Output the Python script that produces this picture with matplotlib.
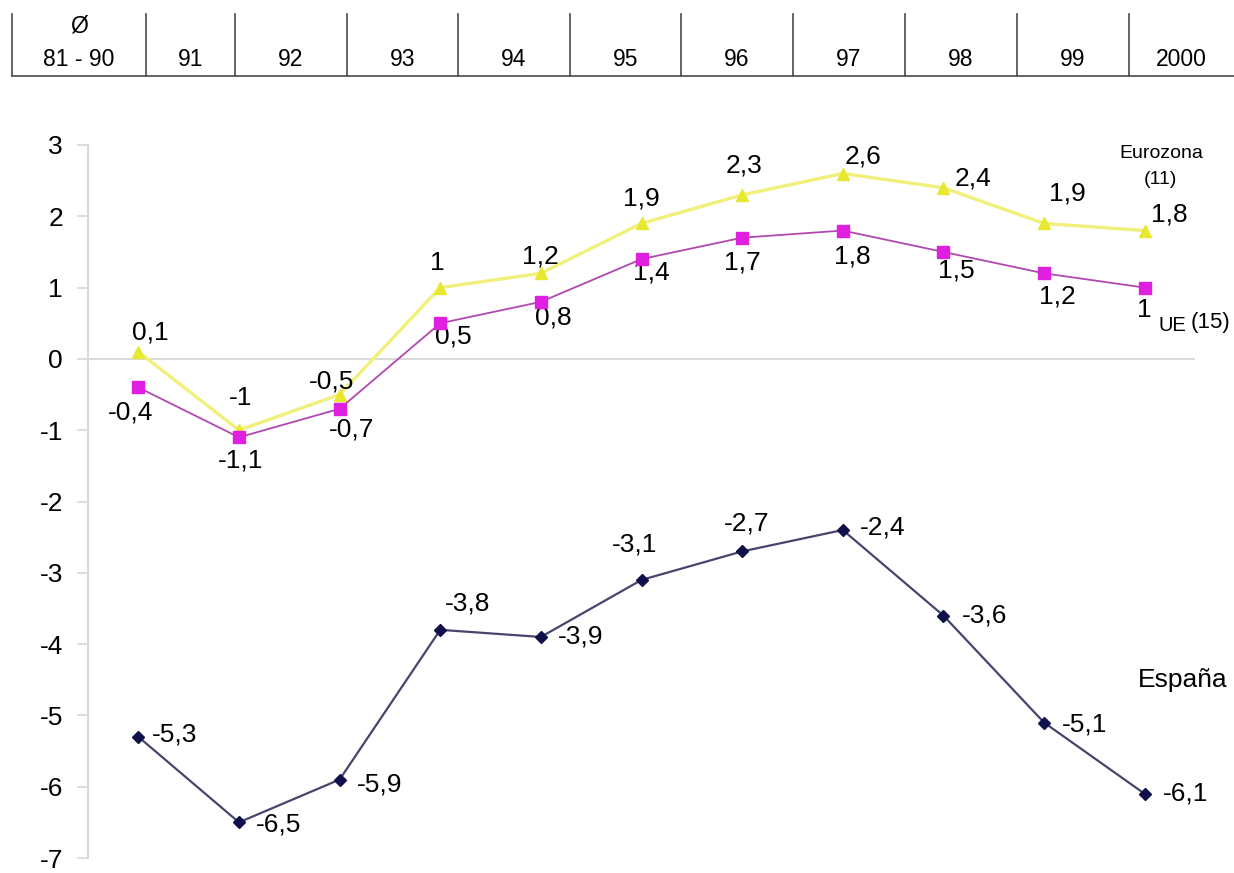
import matplotlib.pyplot as plt
from matplotlib.lines import Line2D

plt.rcParams['font.family'] = ['Liberation Sans', 'DejaVu Sans']

years = ["81 - 90", "91", "92", "93", "94", "95", "96", "97", "98", "99", "2000"]
eurozona = [0.1, -1, -0.5, 1, 1.2, 1.9, 2.3, 2.6, 2.4, 1.9, 1.8]
ue15 = [-0.4, -1.1, -0.7, 0.5, 0.8, 1.4, 1.7, 1.8, 1.5, 1.2, 1]
espana = [-5.3, -6.5, -5.9, -3.8, -3.9, -3.1, -2.7, -2.4, -3.6, -5.1, -6.1]
yticks = [3, 2, 1, 0, -1, -2, -3, -4, -5, -6, -7]

# label offsets in pixels (dx, dy)
off_euro = [(12, 19), (2, 32), (-8, 13), (-3, 25), (0, 17), (0, 25), (2, 29), (20, 17), (30, 9), (23, 30), (25, 16)]
off_ue = [(-8, -25), (2, -23), (12, -21), (13, -13), (12, -16), (10, -13), (0, -25), (10, -26), (13, -19), (13, -23), (0, -22)]
off_esp = [(14, 2), (17, -2), (17, -5), (27, 26), (17, 0), (-7, 35), (5, 28), (17, 3), (18, 0), (18, -2), (18, 0)]

def fmt(v):
    return ("%g" % v).replace(".", ",")

fig = plt.figure(figsize=(12.34, 8.73), dpi=100)
W, H = 1234.0, 873.0

# header table with the years
x_bounds = [12, 146, 235, 347, 458, 570, 681, 793, 905, 1017, 1129, 1234]
fig.add_artist(Line2D([12 / W, 1.0], [1 - 76 / H, 1 - 76 / H], color="#4a4a4a", lw=1.2))
for xb in x_bounds[:-1]:
    fig.add_artist(Line2D([xb / W, xb / W], [1 - 14 / H, 1 - 76 / H], color="#4a4a4a", lw=1.2))
for i, lab in enumerate(years):
    xc = (x_bounds[i] + x_bounds[i + 1]) / 2 / W
    fig.text(xc, 1 - 59 / H, lab, ha="center", va="center", fontsize=16.5)
fig.text((x_bounds[0] + x_bounds[1]) / 2 / W, 1 - 26 / H, "Ø", ha="center", va="center", fontsize=16.5)

ax = fig.add_axes([88 / W, 15 / H, (1195 - 88) / W, (858 - 145) / H])
x = list(range(len(years)))

ax.axhline(0, color="#d9d9d9", lw=1.5, zorder=1)
ax.plot(x, eurozona, color="#f0f07a", lw=2.4, marker="^", ms=8, mfc="#e8e830", mec="#e8e830", zorder=3)
ax.plot(x, ue15, color="#b048b0", lw=1.3, marker="s", ms=8, mfc="#e020e0", mec="#e020e0", zorder=4)
ax.plot(x, espana, color="#45456e", lw=1.6, marker="D", ms=6, mfc="#10104a", mec="#10104a", zorder=4)

fs = 19
for i in x:
    dx, dy = off_euro[i]
    ax.annotate(fmt(eurozona[i]), (i, eurozona[i]), xytext=(dx, dy), textcoords="offset pixels",
                ha="center", va="center", fontsize=fs)
    dx, dy = off_ue[i]
    ax.annotate(fmt(ue15[i]), (i, ue15[i]), xytext=(dx, dy), textcoords="offset pixels",
                ha="center", va="center", fontsize=fs)
    dx, dy = off_esp[i]
    ha = "center" if i in (3, 5, 6) else "left"
    ax.annotate(fmt(espana[i]), (i, espana[i]), xytext=(dx, dy), textcoords="offset pixels",
                ha=ha, va="center", fontsize=fs)

# series names
ax.annotate("Eurozona", (10, 3), xytext=(17, -8), textcoords="offset pixels", ha="center", va="center", fontsize=14)
ax.annotate("(11)", (10, 3), xytext=(16, -35), textcoords="offset pixels", ha="center", va="center", fontsize=14)
ax.annotate("UE", (10, 1), xytext=(14, -38), textcoords="offset pixels", ha="left", va="center", fontsize=14.5)
ax.annotate("(15)", (10, 1), xytext=(86, -35), textcoords="offset pixels", ha="right", va="center", fontsize=16)
ax.annotate("España", (10, -4.5), xytext=(38, 0), textcoords="offset pixels", ha="center", va="center", fontsize=fs)

ax.set_xlim(-0.5, 10.5)
ax.set_ylim(-7, 3)
ax.set_yticks(yticks)
ax.set_yticklabels([str(t) for t in yticks], fontsize=fs)
ax.set_xticks([])
ax.tick_params(axis="y", length=8, width=1.2, color="#d9d9d9", pad=10)
for s in ["top", "right", "bottom"]:
    ax.spines[s].set_visible(False)
ax.spines["left"].set_color("#d9d9d9")
ax.spines["left"].set_linewidth(1.5)
ax.patch.set_alpha(0)

fig.savefig("out.png", dpi=100)
